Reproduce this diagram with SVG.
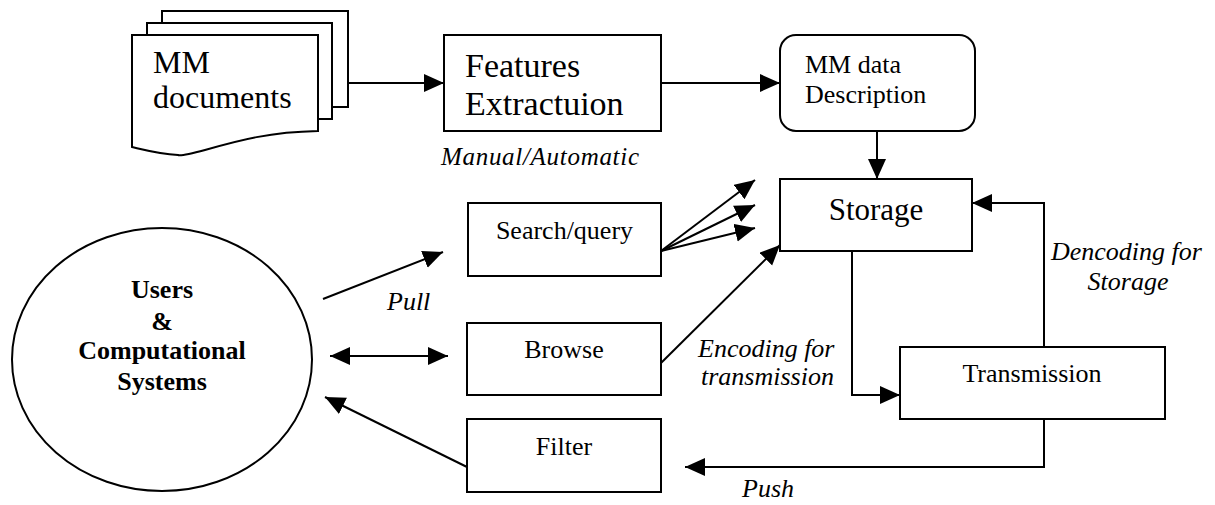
<svg xmlns="http://www.w3.org/2000/svg" width="1215" height="505" viewBox="0 0 1215 505">
<style>
.box{fill:#fff;stroke:#000;stroke-width:2}
.ln{fill:none;stroke:#000;stroke-width:2}
text{font-family:"Liberation Serif","Times New Roman",serif;fill:#000}
.i{font-style:italic}
.b{font-weight:bold}
</style>
<defs>
<marker id="ah" markerUnits="userSpaceOnUse" markerWidth="22" markerHeight="20" refX="20" refY="9" orient="auto">
<path d="M0,0 L20,9 L0,18 Z" fill="#000"/>
</marker>
<marker id="ahs" markerUnits="userSpaceOnUse" markerWidth="22" markerHeight="20" refX="0" refY="9" orient="auto">
<path d="M20,0 L0,9 L20,18 Z" fill="#000"/>
</marker>
</defs>
<rect width="1215" height="505" fill="#fff"/>
<g id="connectors">
<line class="ln" x1="348" y1="83" x2="444" y2="83" marker-end="url(#ah)"/>
<line class="ln" x1="661" y1="83" x2="780" y2="83" marker-end="url(#ah)"/>
<line class="ln" x1="877" y1="131" x2="877" y2="179" marker-end="url(#ah)"/>
<line class="ln" x1="661" y1="251" x2="755" y2="180" marker-end="url(#ah)"/>
<line class="ln" x1="661" y1="251" x2="755" y2="205" marker-end="url(#ah)"/>
<line class="ln" x1="661" y1="251" x2="755" y2="228" marker-end="url(#ah)"/>
<line class="ln" x1="661" y1="363" x2="780" y2="245" marker-end="url(#ah)"/>
<polyline class="ln" points="852,251 852,395 900,395" marker-end="url(#ah)"/>
<polyline class="ln" points="1044,347 1044,203 972,203" marker-end="url(#ah)"/>
<polyline class="ln" points="1044,419 1044,467 685,467" marker-end="url(#ah)"/>
<line class="ln" x1="323" y1="299" x2="443" y2="252" marker-end="url(#ah)"/>
<line class="ln" x1="330" y1="356" x2="448" y2="356" marker-start="url(#ahs)" marker-end="url(#ah)"/>
<line class="ln" x1="467" y1="467" x2="325" y2="397" marker-end="url(#ah)"/>
<text class="i" x="441" y="165" font-size="25" textLength="198">Manual/Automatic</text>
<text class="i" x="387" y="310" font-size="26">Pull</text>
<text class="i" x="698" y="357" font-size="26">Encoding for</text>
<text class="i" x="701" y="385" font-size="26">transmission</text>
<text class="i" x="1051" y="260" font-size="26">Dencoding for</text>
<text class="i" x="1128" y="290" font-size="26" text-anchor="middle">Storage</text>
<text class="i" x="742" y="497" font-size="26">Push</text>
</g>
<g id="mm-documents">
<path class="box" d="M162,11 H348 V107 H162 Z"/>
<path class="box" d="M147,23 H332 V119 H147 Z"/>
<path class="box" d="M132,35 H318 V131 C270,132 240,140 205,150 C190,154 180,156 178,155 C160,154 145,150 132,147 Z"/>
<text x="153" y="73" font-size="32">MM</text>
<text x="153" y="108" font-size="32">documents</text>
</g>
<g id="features">
<rect class="box" x="444" y="35" width="217" height="96"/>
<text x="465" y="77" font-size="34">Features</text>
<text x="465" y="115" font-size="34">Extractuion</text>
</g>
<g id="mm-data">
<rect class="box" x="780" y="35" width="195" height="96" rx="16"/>
<text x="805" y="73" font-size="26">MM data</text>
<text x="805" y="103" font-size="26">Description</text>
</g>
<g id="storage">
<rect class="box" x="780" y="179" width="192" height="72"/>
<text x="876" y="220" font-size="31" text-anchor="middle">Storage</text>
</g>
<g id="search">
<rect class="box" x="468" y="203" width="193" height="73"/>
<text x="564.5" y="239" font-size="26" text-anchor="middle">Search/query</text>
</g>
<g id="browse">
<rect class="box" x="467" y="323" width="194" height="72"/>
<text x="564" y="358" font-size="26" text-anchor="middle">Browse</text>
</g>
<g id="filter">
<rect class="box" x="467" y="419" width="194" height="73"/>
<text x="564" y="455" font-size="26" text-anchor="middle">Filter</text>
</g>
<g id="transmission">
<rect class="box" x="900" y="347" width="265" height="72"/>
<text x="1032" y="382" font-size="26" text-anchor="middle">Transmission</text>
</g>
<g id="users">
<ellipse class="box" cx="162" cy="359.5" rx="150" ry="131.5"/>
<text class="b" x="162" y="298" font-size="26" text-anchor="middle">Users</text>
<text class="b" x="162" y="330" font-size="26" text-anchor="middle">&amp;</text>
<text class="b" x="162" y="359" font-size="26" text-anchor="middle">Computational</text>
<text class="b" x="162" y="390" font-size="26" text-anchor="middle">Systems</text>
</g>
</svg>
